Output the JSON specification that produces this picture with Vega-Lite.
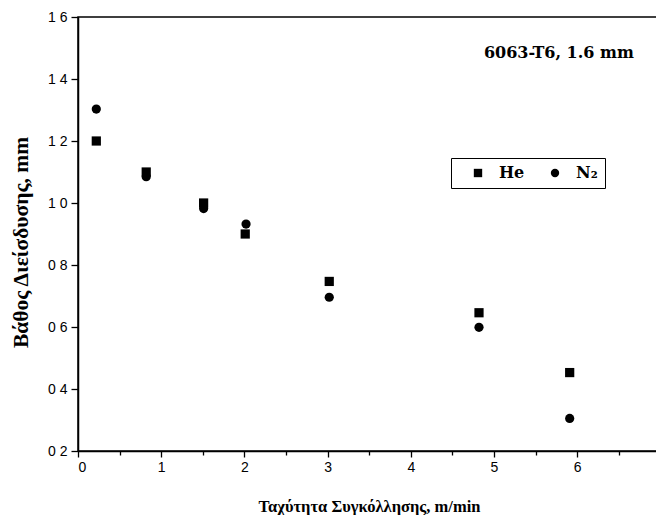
{
  "$schema": "https://vega.github.io/schema/vega-lite/v6.json",
  "width": 599,
  "height": 434,
  "padding": {"left": 10, "top": 10, "right": 0, "bottom": 0},
  "background": "white",
  "config": {
    "view": {"stroke": "black", "strokeWidth": 1.5},
    "axis": {
      "domainColor": "black",
      "domainWidth": 1.5,
      "tickColor": "black",
      "tickWidth": 1.3,
      "grid": false,
      "labelFont": "Liberation Sans",
      "labelFontSize": 14,
      "labelColor": "black",
      "titleFont": "Liberation Serif",
      "titleFontSize": 16.5,
      "titleFontWeight": "bold",
      "titleColor": "black"
    }
  },
  "datasets": {
    "pts": [
      {"gas": "He", "speed": 0.22, "depth": 1.20},
      {"gas": "He", "speed": 0.82, "depth": 1.10},
      {"gas": "He", "speed": 1.51, "depth": 1.00},
      {"gas": "He", "speed": 2.01, "depth": 0.90},
      {"gas": "He", "speed": 3.02, "depth": 0.747},
      {"gas": "He", "speed": 4.82, "depth": 0.646},
      {"gas": "He", "speed": 5.91, "depth": 0.453},
      {"gas": "N₂", "speed": 0.22, "depth": 1.303},
      {"gas": "N₂", "speed": 0.82, "depth": 1.085},
      {"gas": "N₂", "speed": 1.51, "depth": 0.982},
      {"gas": "N₂", "speed": 2.02, "depth": 0.932},
      {"gas": "N₂", "speed": 3.02, "depth": 0.696},
      {"gas": "N₂", "speed": 4.82, "depth": 0.599},
      {"gas": "N₂", "speed": 5.91, "depth": 0.305}
    ],
    "notes": [
      {"speed": 5.78, "depth": 1.484, "label": "6063-T6, 1.6 mm"}
    ]
  },
  "layer": [
    {
      "data": {"name": "pts"},
      "mark": {"type": "point", "filled": true, "opacity": 1, "size": 85},
      "encoding": {
        "x": {
          "field": "speed", "type": "quantitative",
          "scale": {"domain": [0, 7.2], "nice": false},
          "axis": {
            "title": "Ταχύτητα Συγκόλλησης, m/min",
            "titleX": 291,
            "values": [0, 0.5, 1, 1.5, 2, 2.5, 3, 3.5, 4, 4.5, 5, 5.5, 6, 6.5, 7],
            "labelExpr": "datum.value % 1 === 0 && datum.value < 7 ? format(datum.value, 'd') : ''",
            "tickSize": {"condition": {"test": "datum.value % 1 === 0", "value": 6}, "value": 4},
            "labelPadding": 3,
            "titlePadding": 24
          }
        },
        "y": {
          "field": "depth", "type": "quantitative",
          "scale": {"domain": [0.2, 1.6], "nice": false, "zero": false},
          "axis": {
            "title": "Βάθος Διείσδυσης, mm",
            "titleFontSize": 21.5,
            "titleY": 225,
            "values": [0.2, 0.3, 0.4, 0.5, 0.6, 0.7, 0.8, 0.9, 1.0, 1.1, 1.2, 1.3, 1.4, 1.5, 1.6],
            "labelExpr": "round(datum.value * 10) % 2 === 0 ? replace(format(datum.value, '.1f'), '.', ' ') : ''",
            "tickSize": {"condition": {"test": "round(datum.value * 10) % 2 === 0", "value": 7}, "value": 4},
            "labelPadding": 4,
            "titlePadding": 15
          }
        },
        "shape": {
          "field": "gas", "type": "nominal",
          "scale": {"domain": ["He", "N₂"], "range": ["square", "circle"]},
          "legend": {
            "title": null,
            "orient": "none",
            "legendX": 373,
            "legendY": 141,
            "direction": "horizontal",
            "strokeColor": "black",
            "padding": 7,
            "labelFont": "DejaVu Serif",
            "labelFontSize": 16,
            "labelFontWeight": "bold",
            "labelColor": "black",
            "symbolSize": 70,
            "symbolOffset": 12,
            "symbolFillColor": "black",
            "symbolStrokeColor": "black",
            "columnPadding": 10,
            "labelOffset": 13
          }
        },
        "color": {"value": "black"}
      }
    },
    {
      "data": {"name": "notes"},
      "mark": {"type": "text", "font": "DejaVu Serif", "fontSize": 16, "fontWeight": "bold", "color": "black", "align": "center", "baseline": "middle"},
      "encoding": {
        "x": {"field": "speed", "type": "quantitative"},
        "y": {"field": "depth", "type": "quantitative"},
        "text": {"field": "label"}
      }
    }
  ]
}
